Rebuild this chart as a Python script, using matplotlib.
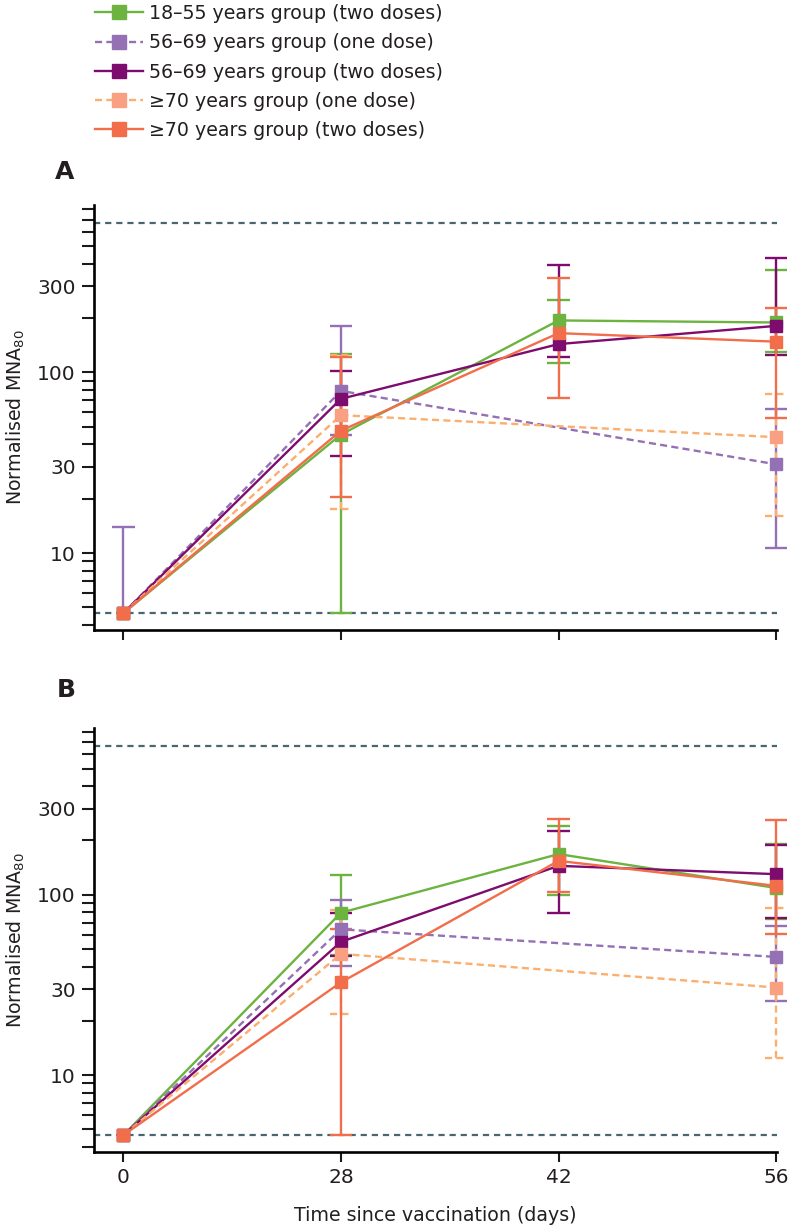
import numpy as np
import matplotlib.pyplot as plt
import matplotlib.ticker as ticker
from matplotlib.lines import Line2D

plt.rcParams['font.family'] = ['DejaVu Sans']

nan = np.nan
days = ['0', '28', '42', '56']
labels = ['18–55 years group (two doses)', '56–69 years group (one dose)',
          '56–69 years group (two doses)', '≥70 years group (one dose)',
          '≥70 years group (two doses)']
lower_limit = 4.65
upper_limit = 670

# panel A: geometric means and 95% CI per timepoint (nan = not measured / no bar)
a_young2 = [4.65, 45.3, 194, 189]
a_young2_lo = [nan, 4.65, 113, 129]
a_young2_hi = [nan, 126, 252, 371]
a_mid1 = [4.65, 79, nan, 31]
a_mid1_lo = [nan, 45.3, nan, 10.7]
a_mid1_hi = [14, 181, nan, 62.4]
a_mid2 = [4.65, 71.4, 143.5, 181]
a_mid2_lo = [nan, 34.6, 121, 125]
a_mid2_hi = [nan, 102, 392, 432]
a_old1 = [4.65, 58, nan, 43.8]
a_old1_lo = [nan, 17.5, nan, 16]
a_old1_hi = [nan, 125, nan, 75.6]
a_old2 = [4.65, 47.6, 165, 148]
a_old2_lo = [nan, 20.4, 72.4, 56]
a_old2_hi = [nan, 122, 333, 228]

# panel B
b_young2 = [4.65, 79.5, 168, 109]
b_young2_lo = [nan, 46.2, 99.7, 73]
b_young2_hi = [nan, 129, 239, 191]
b_mid1 = [4.65, 64.3, nan, 45.2]
b_mid1_lo = [nan, 40.1, nan, 25.9]
b_mid1_hi = [nan, 93.6, nan, 67]
b_mid2 = [4.65, 54.8, 144.6, 130]
b_mid2_lo = [nan, 46, 79.5, 74]
b_mid2_hi = [nan, 79.5, 225, 189]
b_old1 = [4.65, 47, nan, 30.6]
b_old1_lo = [nan, 21.9, nan, 12.5]
b_old1_hi = [nan, 82.3, nan, 84]
b_old2 = [4.65, 32.7, 154, 112]
b_old2_lo = [nan, 4.65, 104, 60.7]
b_old2_hi = [nan, 64.3, 264, 258]

# line colour, marker colour, line style, bar style
styles = [('#6CB33F', '#6CB33F', '-', '-'),
          ('#9470B4', '#9470B4', (0, (3, 1.8)), '-'),
          ('#7E0C6E', '#7E0C6E', '-', '-'),
          ('#FBAE6E', '#F8A081', (0, (3, 1.8)), (0, (3, 1.8))),
          ('#F26D4A', '#F26D4A', '-', '-')]

LW = 1.7


def draw_series(ax, y, lo, hi, style, z):
  color, mcolor, ls, bar_ls = style
  x = np.arange(len(days), dtype=float)
  y = np.asarray(y, float)
  lo = np.asarray(lo, float)
  hi = np.asarray(hi, float)
  bot = np.where(np.isnan(lo), y, lo)
  top = np.where(np.isnan(hi), y, hi)
  has = ~np.isnan(y) & (bot != top)
  ax.vlines(x[has], bot[has], top[has], color=color, ls=bar_ls, lw=LW, zorder=2, clip_on=False)
  for end in (lo, hi):
    ok = ~np.isnan(end)
    ax.hlines(end[ok], x[ok] - 0.052, x[ok] + 0.052, color=color, ls=bar_ls, lw=LW,
              zorder=2, clip_on=False)
  ok = ~np.isnan(y)
  ax.plot(x[ok], y[ok], color=color, ls=ls, lw=LW, marker='s', ms=8.5,
          mfc=mcolor, mec=mcolor, zorder=3 + z * 0.1, clip_on=False)


fig = plt.figure(figsize=(7.88, 12.30), dpi=100)
left = 94 / 788
width = 683 / 788
axA = fig.add_axes([left, 1 - 630 / 1230, width, 425 / 1230])
axB = fig.add_axes([left, 1 - 1152 / 1230, width, 424.5 / 1230])

panels = [
  (axA, 'A', [(a_young2, a_young2_lo, a_young2_hi), (a_mid1, a_mid1_lo, a_mid1_hi),
              (a_mid2, a_mid2_lo, a_mid2_hi), (a_old1, a_old1_lo, a_old1_hi),
              (a_old2, a_old2_lo, a_old2_hi)]),
  (axB, 'B', [(b_young2, b_young2_lo, b_young2_hi), (b_mid1, b_mid1_lo, b_mid1_hi),
              (b_mid2, b_mid2_lo, b_mid2_hi), (b_old1, b_old1_lo, b_old1_hi),
              (b_old2, b_old2_lo, b_old2_hi)]),
]

for ax, letter, series in panels:
  ax.set_yscale('log')
  ax.set_ylim(3.75, 845)
  ax.set_xlim(-0.135, 3.004)
  for lim in (lower_limit, upper_limit):
    ax.axhline(lim, color='#4D6570', lw=1.6, ls=(0, (2.8, 2.2)), zorder=1)
  for i, (y, lo, hi) in enumerate(series):
    draw_series(ax, y, lo, hi, styles[i], i)

  ax.spines['top'].set_visible(False)
  ax.spines['right'].set_visible(False)
  ax.spines['left'].set_linewidth(1.9)
  ax.spines['bottom'].set_linewidth(1.9)
  ax.yaxis.set_major_locator(ticker.FixedLocator([10, 30, 100, 300]))
  ax.yaxis.set_major_formatter(ticker.FixedFormatter(['10', '30', '100', '300']))
  ax.yaxis.set_minor_locator(ticker.LogLocator(base=10, subs=np.arange(2, 10)))
  ax.yaxis.set_minor_formatter(ticker.NullFormatter())
  ax.tick_params(axis='y', which='both', length=8.4, width=1.5, pad=4.8, labelsize=14.5, color='#1a1a1a')
  ax.set_xticks(range(len(days)))
  ax.tick_params(axis='x', length=7, width=1.5, pad=4.3, labelsize=14.5, color='#1a1a1a')
  ax.set_ylabel('Normalised MNA$_{80}$', fontsize=13.7, color='#231f20')
  ax.yaxis.set_label_coords(-0.098, 0.5)
  ax.tick_params(labelcolor='#231f20')

axA.set_xticklabels([])
axB.set_xticklabels(days)
axB.set_xlabel('Time since vaccination (days)', fontsize=13.7, color='#231f20')
axB.xaxis.set_label_coords(0.5, -0.128)

fig.text(65 / 788, 1 - 172 / 1230, 'A', ha='center', va='center', fontsize=18, fontweight='bold', color='#231f20')
fig.text(66 / 788, 1 - 690 / 1230, 'B', ha='center', va='center', fontsize=18, fontweight='bold', color='#231f20')

handles = [Line2D([], [], color=c, ls=ls, lw=LW, marker='s', ms=9.5, mfc=mc, mec=mc)
           for c, mc, ls, _ in styles]
fig.legend(handles, labels, loc='upper left', bbox_to_anchor=(95 / 788, 1 - 4 / 1230),
           frameon=False, borderpad=0, borderaxespad=0, handlelength=2.5,
           handletextpad=0.35, labelspacing=0.54, fontsize=13.7, labelcolor='#231f20')

fig.savefig('out.png', dpi=100)
